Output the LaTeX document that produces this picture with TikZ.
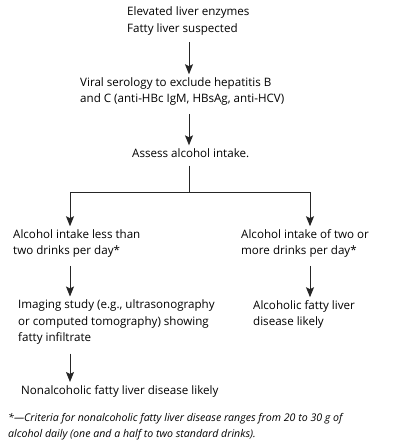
\documentclass[tikz,border=0pt]{standalone}
\usepackage{fontspec}
\setmainfont{Open Sans}
\usetikzlibrary{arrows.meta}
\begin{document}
\begin{tikzpicture}[x=1pt,y=-1pt,
  txt/.style={anchor=west,align=left,inner sep=0pt,font=\fontsize{11.6}{16.5}\selectfont},
  arr/.style={-{Stealth[width=8pt,length=10pt,inset=2pt]},line width=0.9pt,draw=black!85},
  ln/.style={line width=0.9pt,draw=black!85}]
\useasboundingbox (0,0) rectangle (400,448);
\coordinate (sx) at (189,0);
\coordinate (lx) at (70,0);
\coordinate (rx) at (310,0);
\node[txt] (n1) at (127,21) {Elevated liver enzymes\\Fatty liver suspected};
\node[txt] (n2) at (80,91.5) {Viral serology to exclude hepatitis B\\and C (anti-HBc IgM, HBsAg, anti-HCV)};
\node[txt] (n3) at (132,153) {Assess alcohol intake.};
\node[txt] (n4) at (13,243.5) {Alcohol intake less than\\two drinks per day*};
\node[txt] (n5) at (241,243.5) {Alcohol intake of two or\\more drinks per day*};
\node[txt] (n6) at (18,322) {Imaging study (e.g., ultrasonography\\or computed tomography) showing\\fatty infiltrate};
\node[txt] (n7) at (253,314.5) {Alcoholic fatty liver\\disease likely};
\node[txt] (n8) at (21,391) {Nonalcoholic fatty liver disease likely};
\node[txt,font=\fontsize{10.6}{16.5}\selectfont\itshape] (ft) at (8,426.5) {*---Criteria for nonalcoholic fatty liver disease ranges from 20 to 30 g of\\alcohol daily (one and a half to two standard drinks).};
\coordinate (br) at (189,192);
\draw[arr] (n1.south -| sx) ++(0,7) -- ([yshift=3pt]n2.north -| sx);
\draw[arr] (n2.south -| sx) ++(0,8) -- ([yshift=3pt]n3.north -| sx);
\draw[ln] (n3.south -| sx) ++(0,8) -- (br);
\draw[arr] (br) -| ([yshift=3pt]n4.north -| lx);
\draw[arr] (br) -| ([yshift=3pt]n5.north -| rx);
\draw[arr] (n4.south -| lx) ++(0,8) -- ([yshift=3pt]n6.north -| lx);
\draw[arr] (n5.south -| rx) ++(0,8) -- ([yshift=3pt]n7.north -| rx);
\draw[arr] (n6.south -| lx) ++(0,9) -- ([yshift=3pt]n8.north -| lx);
\end{tikzpicture}
\end{document}
